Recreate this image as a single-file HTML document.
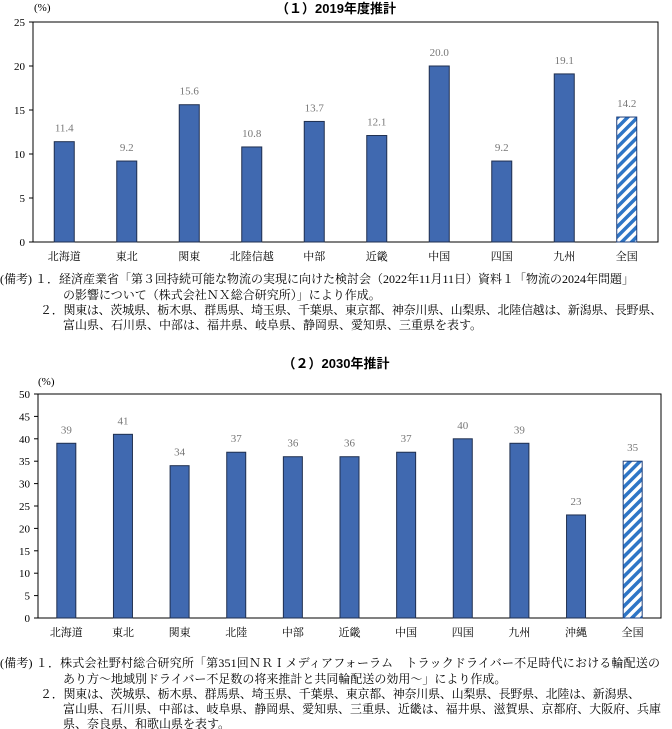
<!DOCTYPE html>
<html><head><meta charset="utf-8">
<style>
html,body{margin:0;padding:0;background:#fff;}
svg{display:block;}
.t{font-family:"Liberation Sans","Noto Sans CJK JP",sans-serif;font-weight:bold;font-size:13px;fill:#000;}
.s{font-family:"Liberation Serif","Noto Serif CJK SC",serif;font-size:11px;fill:#000;}
.v{font-family:"Liberation Serif","Noto Serif CJK SC",serif;font-size:11px;fill:#777;}
.n{font-family:"Liberation Serif","Noto Serif CJK SC",serif;font-size:12px;fill:#000;}
</style></head>
<body>
<svg id="svg" width="672" height="729" xmlns="http://www.w3.org/2000/svg">
<defs>
<pattern id="hatch" patternUnits="userSpaceOnUse" width="7" height="7" patternTransform="rotate(45)">
<rect width="7" height="7" fill="#fff"/><rect width="3.5" height="7" fill="#2e75c6"/>
</pattern>
</defs>
<text class="t" x="336" y="13" text-anchor="middle">（１）2019年度推計</text>
<text class="s" x="34" y="11">(%)</text>
<g id="c1"></g>
<text class="n" x="0" y="283" textLength="634">(備考) １．経済産業省「第３回持続可能な物流の実現に向けた検討会（2022年11月11日）資料１「物流の2024年問題」</text>
<text class="n" x="63" y="299">の影響について（株式会社ＮＸ総合研究所）」により作成。</text>
<text class="n" x="40" y="314" textLength="622">２．関東は、茨城県、栃木県、群馬県、埼玉県、千葉県、東京都、神奈川県、山梨県、北陸信越は、新潟県、長野県、</text>
<text class="n" x="63" y="329">富山県、石川県、中部は、福井県、岐阜県、静岡県、愛知県、三重県を表す。</text>

<text class="t" x="336" y="368" text-anchor="middle">（２）2030年推計</text>
<text class="s" x="38" y="385">(%)</text>
<g id="c2"></g>
<text class="n" x="0" y="667" textLength="660">(備考) １．株式会社野村総合研究所「第351回ＮＲＩメディアフォーラム　トラックドライバー不足時代における輪配送の</text>
<text class="n" x="63" y="683">あり方～地域別ドライバー不足数の将来推計と共同輪配送の効用～」により作成。</text>
<text class="n" x="40" y="698" textLength="600">２．関東は、茨城県、栃木県、群馬県、埼玉県、千葉県、東京都、神奈川県、山梨県、長野県、北陸は、新潟県、</text>
<text class="n" x="63" y="713" textLength="598">富山県、石川県、中部は、岐阜県、静岡県、愛知県、三重県、近畿は、福井県、滋賀県、京都府、大阪府、兵庫</text>
<text class="n" x="63" y="728">県、奈良県、和歌山県を表す。</text>
</svg>
<script>
const cats1 = ["北海道","東北","関東","北陸信越","中部","近畿","中国","四国","九州","全国"];
const vals1 = [11.4,9.2,15.6,10.8,13.7,12.1,20.0,9.2,19.1,14.2];
const ticks1 = [0,5,10,15,20,25];
const cats2 = ["北海道","東北","関東","北陸","中部","近畿","中国","四国","九州","沖縄","全国"];
const vals2 = [39,41,34,37,36,36,37,40,39,23,35];
const ticks2 = [0,5,10,15,20,25,30,35,40,45,50];

const NS="http://www.w3.org/2000/svg";
function mk(p,tag,a){const e=document.createElementNS(NS,tag);for(const k in a)e.setAttribute(k,a[k]);p.appendChild(e);return e;}
function draw(gid,cats,vals,ticks,box,bw,dec,pfx){
  const g=document.getElementById(gid);
  const max=ticks[ticks.length-1];
  const y=v=>box.b-(v/max)*(box.b-box.t);
  const step=(box.r-box.l)/cats.length;
  const x=i=>box.l+step*(i+0.5);
  const fr=mk(g,'rect',{x:box.l,y:box.t,width:box.r-box.l,height:box.b-box.t,fill:'none',stroke:'#000','stroke-width':1});
  
  
  ticks.forEach(t=>{
    const tk=mk(g,'line',{x1:box.l-4,x2:box.l,y1:y(t),y2:y(t),stroke:'#000'});
    
    
    const tl=mk(g,'text',{x:box.l-8,y:y(t)+4,'text-anchor':'end',class:'s'});
    tl.textContent=t;
    
    
  });
  cats.forEach((c,i)=>{
    const last=i===cats.length-1;
    const b=mk(g,'rect',{x:x(i)-bw/2,y:y(vals[i]),width:bw,height:box.b-y(vals[i]),fill:last?'url(#hatch)':'#4069b0',stroke:last?'#1f3f7a':'#1f2f4f','stroke-width':1});
    
    
    const v=mk(g,'text',{x:x(i),y:y(vals[i])-10,'text-anchor':'middle',class:'v'});
    v.textContent=dec?vals[i].toFixed(1):vals[i];
    
    
    const l=mk(g,'text',{x:x(i),y:box.b+18,'text-anchor':'middle',class:'s'});
    l.textContent=c;
    
    
  });
}
draw('c1',cats1,vals1,ticks1,{l:33,r:658,t:22,b:242},20,true,'chart1');
draw('c2',cats2,vals2,ticks2,{l:38,r:661,t:394,b:618},19,false,'chart2');
</script>
</body></html>
